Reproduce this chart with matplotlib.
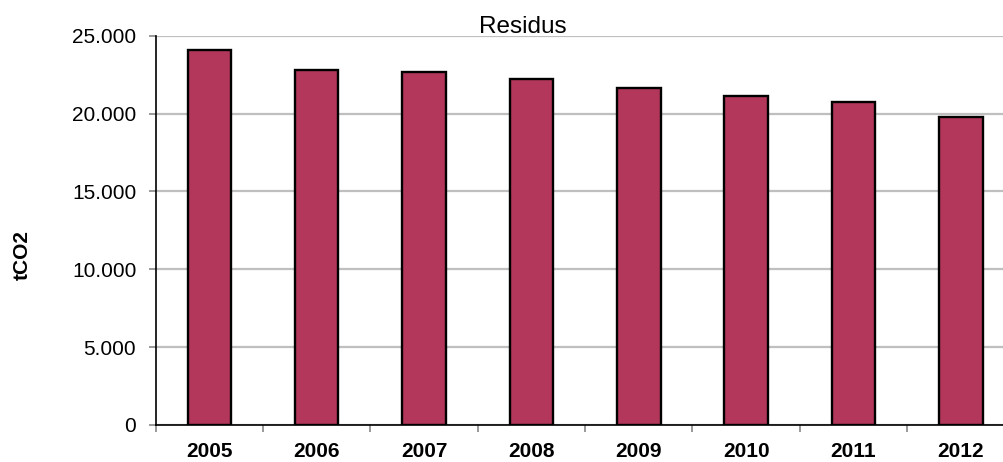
import matplotlib
matplotlib.use("Agg")
import matplotlib.pyplot as plt
from matplotlib.ticker import FuncFormatter, FixedLocator
import numpy as np

plt.rcParams['font.family'] = ['Liberation Sans', 'DejaVu Sans']

years = ["2005", "2006", "2007", "2008", "2009", "2010", "2011", "2012"]
values = [24080, 22780, 22670, 22220, 21660, 21150, 20720, 19780]
title = "Residus"
ylabel = "tCO2"

W, H = 1004, 462
fig = plt.figure(figsize=(W / 100, H / 100), dpi=100)
left, right, bottom, top = 155.7, 1014.5, 425.0, 35.7
ax = fig.add_axes([left / W, (H - bottom) / H, (right - left) / W, (bottom - top) / H])

x = np.arange(len(years))
ax.bar(x, values, width=0.405, color='#B2375B', edgecolor='black', linewidth=1.7, zorder=3)

ax.set_xlim(-0.5, len(years) - 0.5)
ax.set_ylim(0, 25000)
ax.set_yticks(np.arange(0, 25001, 5000))
ax.yaxis.set_major_formatter(FuncFormatter(lambda v, p: "0" if v == 0 else f"{int(v):,}".replace(",", ".")))
ax.yaxis.grid(True, color='#BFBFBF', linewidth=1.6, zorder=0)
ax.set_axisbelow(True)

ax.set_xticks(x)
ax.set_xticklabels(years, fontweight='bold', fontsize=15)
ax.xaxis.set_minor_locator(FixedLocator(np.arange(-0.5, len(years), 1.0)))
ax.tick_params(axis='x', which='major', length=0, pad=12.5)
ax.tick_params(axis='x', which='minor', length=5, color='#888888', width=1.2, direction='out')
ax.tick_params(axis='y', length=5, color='#888888', width=1.2, labelsize=15, pad=9)

for s in ['top', 'right']:
    ax.spines[s].set_visible(False)
ax.spines['left'].set_linewidth(1.2)
ax.spines['bottom'].set_linewidth(1.2)

fig.text(523 / W, (H - 33) / H, title, ha='center', va='baseline', fontsize=17.5)
fig.text(22 / W, (H - 255) / H, ylabel, rotation=90, ha='center', va='center', fontsize=15, fontweight='bold')

fig.savefig("out.png", dpi=100)
